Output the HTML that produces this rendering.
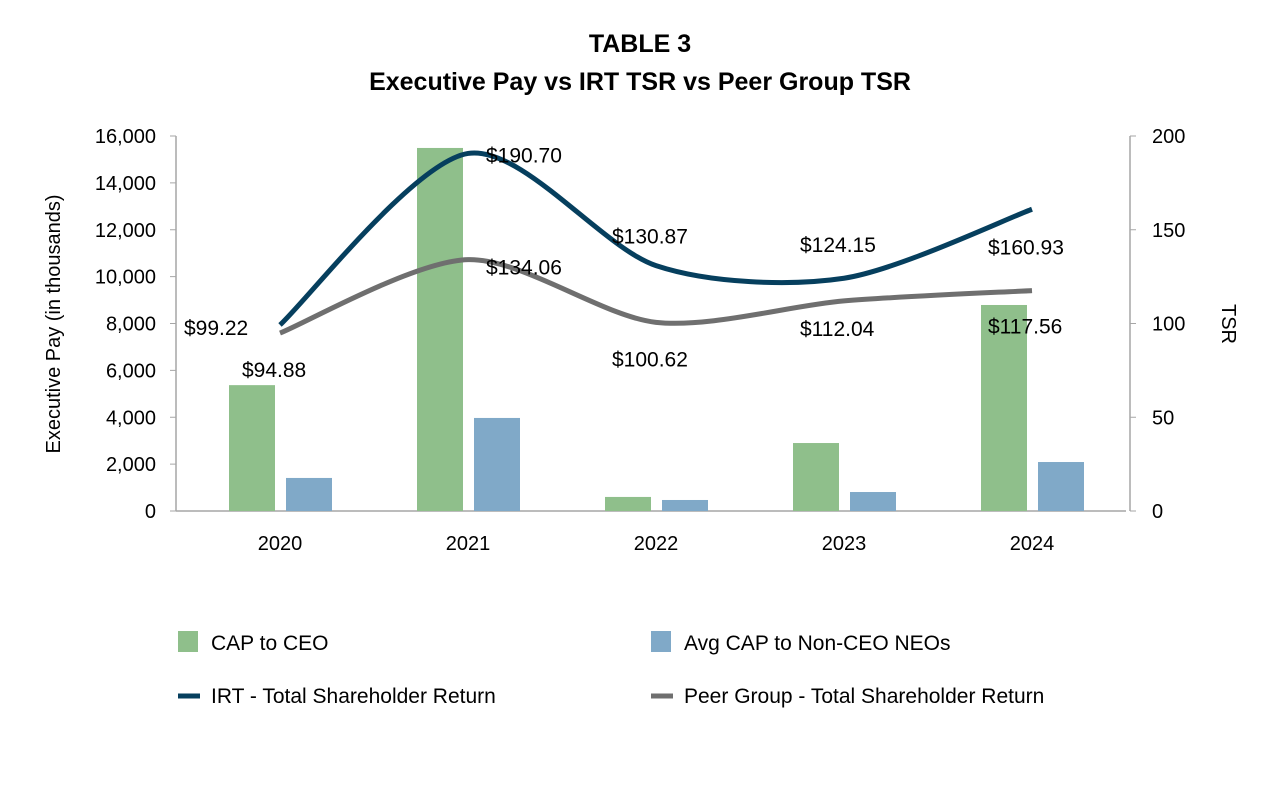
<!DOCTYPE html>
<html><head><meta charset="utf-8"><style>
body{margin:0;background:#fff;font-family:"Liberation Sans",Arial,sans-serif}
svg text{font-family:"Liberation Sans",Arial,sans-serif}
</style></head><body>
<svg id="c" width="1280" height="786" xmlns="http://www.w3.org/2000/svg">
<text x="640" y="52" text-anchor="middle" font-size="25" font-weight="bold">TABLE 3</text>
<text x="640" y="90" text-anchor="middle" font-size="25" font-weight="bold">Executive Pay vs IRT TSR vs Peer Group TSR</text>
<g id="plot"></g>
<text transform="translate(60,324) rotate(-90)" text-anchor="middle" font-size="20">Executive Pay (in thousands)</text>
<text transform="translate(1222,324) rotate(90)" text-anchor="middle" font-size="20">TSR</text>
<g>
<rect x="178" y="631" width="20" height="21" fill="#8fbf8b"/>
<text x="211" y="650" font-size="21">CAP to CEO</text>
<rect x="651" y="631" width="20" height="21" fill="#80a9c8"/>
<text x="684" y="650" font-size="21">Avg CAP to Non-CEO NEOs</text>
<line x1="178" y1="696" x2="200" y2="696" stroke="#063f5e" stroke-width="5"/>
<text x="211" y="703" font-size="21">IRT - Total Shareholder Return</text>
<line x1="651" y1="696" x2="673" y2="696" stroke="#6f6f6f" stroke-width="5"/>
<text x="684" y="703" font-size="21">Peer Group - Total Shareholder Return</text>
</g>
</svg>
<script>
const years=["2020","2021","2022","2023","2024"];
const capCeo=[5370,15490,600,2900,8790];
const capNeo=[1410,3970,470,810,2090];
const irtTsr=[99.22,190.70,130.87,124.15,160.93];
const peerTsr=[94.88,134.06,100.62,112.04,117.56];
const leftTicks=[0,2000,4000,6000,8000,10000,12000,14000,16000];
const rightTicks=[0,50,100,150,200];

const NS="http://www.w3.org/2000/svg";
const g=document.getElementById('plot');
const X0=186,X1=1126,Y0=511,Y1=136;
const band=(X1-X0)/years.length;
const xc=i=>X0+band*(i+0.5);
const yL=v=>Y0-(v/16000)*(Y0-Y1);
const yR=v=>Y0-(v/200)*(Y0-Y1);
function mk(t,a){const e=document.createElementNS(NS,t);for(const k in a)e.setAttribute(k,a[k]);g.appendChild(e);return e;}
function fmt(v){return v.toLocaleString('en-US');}

let e;
e=mk('line',{x1:176,y1:Y0,x2:X1,y2:Y0,stroke:'#a6a6a6','stroke-width':1.5});


e=mk('line',{x1:176,y1:Y1,x2:176,y2:Y0,stroke:'#a6a6a6','stroke-width':1.5});


e=mk('line',{x1:1130,y1:Y1,x2:1130,y2:Y0,stroke:'#a6a6a6','stroke-width':1.5});


leftTicks.forEach(v=>{
  mk('line',{x1:170,y1:yL(v),x2:176,y2:yL(v),stroke:'#a6a6a6'});
  e=mk('text',{x:156,y:yL(v)+7,'text-anchor':'end','font-size':20});
  e.textContent=fmt(v);
  
  
});
rightTicks.forEach(v=>{
  mk('line',{x1:1130,y1:yR(v),x2:1136,y2:yR(v),stroke:'#a6a6a6'});
  e=mk('text',{x:1152,y:yR(v)+7,'font-size':20});
  e.textContent=v;
  
  
});
years.forEach((y,i)=>{
  e=mk('text',{x:xc(i),y:Y0+39,'text-anchor':'middle','font-size':20});
  e.textContent=y;
  
  
  e=mk('rect',{x:xc(i)-51,y:yL(capCeo[i]),width:46,height:Y0-yL(capCeo[i]),fill:'#8fbf8b'});
  
  
  e=mk('rect',{x:xc(i)+6,y:yL(capNeo[i]),width:46,height:Y0-yL(capNeo[i]),fill:'#80a9c8'});
  
  
});
function smooth(vals){
  const p=vals.map((v,i)=>[xc(i),yR(v)]);
  let d='M'+p[0][0]+','+p[0][1];
  for(let i=0;i<p.length-1;i++){
    const p0=p[i-1]||p[i],p1=p[i],p2=p[i+1],p3=p[i+2]||p2;
    const c1=[p1[0]+(p2[0]-p0[0])/7,p1[1]+(p2[1]-p0[1])/7];
    const c2=[p2[0]-(p3[0]-p1[0])/7,p2[1]-(p3[1]-p1[1])/7];
    d+=' C'+c1+' '+c2+' '+p2;
  }
  return d;
}
e=mk('path',{d:smooth(peerTsr),fill:'none',stroke:'#6f6f6f','stroke-width':5});


e=mk('path',{d:smooth(irtTsr),fill:'none',stroke:'#063f5e','stroke-width':5});


const irtOff=[[-96,10],[18,9],[-44,-22],[-44,-26],[-44,45]];
const peerOff=[[-38,44],[18,15],[-44,44],[-44,35],[-44,43]];
years.forEach((y,i)=>{
  e=mk('text',{x:xc(i)+irtOff[i][0],y:yR(irtTsr[i])+irtOff[i][1],'font-size':21});
  e.textContent='$'+irtTsr[i].toFixed(2);
  
  
  e=mk('text',{x:xc(i)+peerOff[i][0],y:yR(peerTsr[i])+peerOff[i][1],'font-size':21});
  e.textContent='$'+peerTsr[i].toFixed(2);
  
  
});
</script>
</body></html>
